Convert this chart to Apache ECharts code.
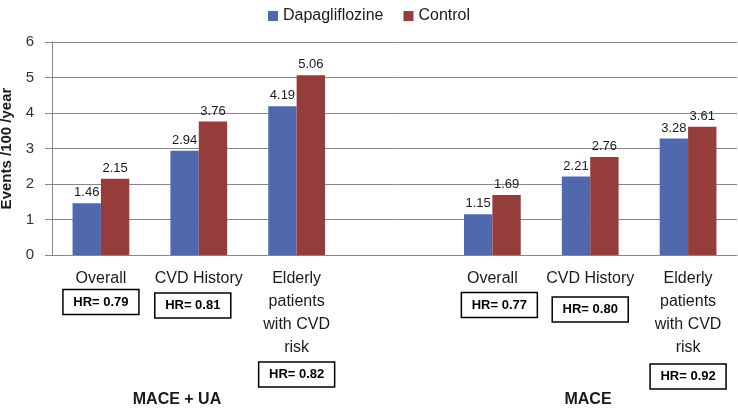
<!DOCTYPE html>
<html>
<head>
<meta charset="utf-8">
<script src="https://cdn.jsdelivr.net/npm/echarts@6/dist/echarts.min.js"></script>
<style>html,body{margin:0;padding:0;background:#fff}#chart{width:738px;height:408px}</style>
</head>
<body>
<div id="chart"></div>
<script>
// ---- data ----
const categories = ['Overall', 'CVD History', 'Elderly\npatients\nwith CVD\nrisk', '', 'Overall', 'CVD History', 'Elderly\npatients\nwith CVD\nrisk'];
const dapagliflozine = [1.46, 2.94, 4.19, null, 1.15, 2.21, 3.28];
const control = [2.15, 3.76, 5.06, null, 1.69, 2.76, 3.61];
const hazardRatios = ['0.79', '0.81', '0.82', '', '0.77', '0.80', '0.92'];
const groupLabels = ['MACE + UA', 'MACE'];
const seriesNames = ['Dapagliflozine', 'Control'];
const yAxisName = 'Events /100 /year';

// ---- layout (not data) ----
const FONT = 'Liberation Sans, Arial, sans-serif';
const boxLine = [24, 31, 31, 0, 30, 39, 35];
const boxShift = [0, -6, 0, 0, 7, 0, 0];
const groupPos = [[177, 400], [588, 400]];

const rich = {};
hazardRatios.forEach((hr, i) => {
  rich['hr' + i] = {
    fontFamily: FONT, fontSize: 13, fontWeight: 'bold', color: '#000',
    width: 64, height: 19, padding: [3, 6, 3, 6],
    borderColor: '#000', borderWidth: 1.5, lineHeight: boxLine[i] || 23
  };
  rich['sp' + i] = { width: Math.abs(boxShift[i]) * 2, height: 1, lineHeight: boxLine[i] || 23 };
});

const chart = echarts.init(document.getElementById('chart'));
chart.setOption({
  animation: false,
  backgroundColor: '#fff',
  textStyle: { fontFamily: FONT },
  legend: {
    top: 3, left: 'center', itemWidth: 10, itemHeight: 10, itemGap: 20,
    icon: 'rect',
    textStyle: { fontFamily: FONT, fontSize: 16, color: '#1a1a1a' },
    data: seriesNames
  },
  grid: { left: 52, right: 1, top: 42, bottom: 153, containLabel: false, outerBoundsMode: 'none' },
  xAxis: {
    type: 'category',
    data: categories,
    axisLine: { lineStyle: { color: '#888', width: 1 } },
    axisTick: { length: 4, lineStyle: { color: '#888' } },
    axisLabel: {
      interval: 0, margin: 12, fontFamily: FONT, fontSize: 16, lineHeight: 23, color: '#1a1a1a',
      rich: rich,
      formatter: function (value, index) {
        const hr = hazardRatios[index];
        if (!hr) return value;
        let box = '{hr' + index + '|HR= ' + hr + '}';
        const sh = boxShift[index];
        if (sh > 0) box = '{sp' + index + '|}' + box;
        else if (sh < 0) box = box + '{sp' + index + '|}';
        return value + '\n' + box;
      }
    }
  },
  yAxis: {
    type: 'value', min: 0, max: 6, interval: 1,
    name: yAxisName, nameLocation: 'middle', nameGap: 36, nameRotate: 90,
    nameTextStyle: { fontFamily: FONT, fontSize: 15, fontWeight: 'bold', color: '#1a1a1a' },
    axisLine: { show: true, lineStyle: { color: '#888', width: 1 } },
    axisTick: { show: true, length: 7, lineStyle: { color: '#888' } },
    axisLabel: { margin: 18, fontFamily: FONT, fontSize: 15, color: '#333' },
    splitLine: { show: true, lineStyle: { color: '#888', width: 1 } }
  },
  series: [
    {
      name: seriesNames[0], type: 'bar', data: dapagliflozine,
      barGap: '0%', barCategoryGap: '42%',
      itemStyle: { color: '#5069AD' },
      label: { show: true, position: 'top', distance: 4, fontFamily: FONT, fontSize: 13, color: '#1a1a1a' }
    },
    {
      name: seriesNames[1], type: 'bar', data: control,
      barGap: '0%', barCategoryGap: '42%',
      itemStyle: { color: '#953D3B' },
      label: { show: true, position: 'top', distance: 4, fontFamily: FONT, fontSize: 13, color: '#1a1a1a' }
    }
  ],
  graphic: groupLabels.map((t, i) => ({
    type: 'text', x: groupPos[i][0], y: groupPos[i][1],
    style: { text: t, font: 'bold 16px ' + FONT, fill: '#1a1a1a', textAlign: 'center', textVerticalAlign: 'middle' }
  }))
});
</script>
</body>
</html>
